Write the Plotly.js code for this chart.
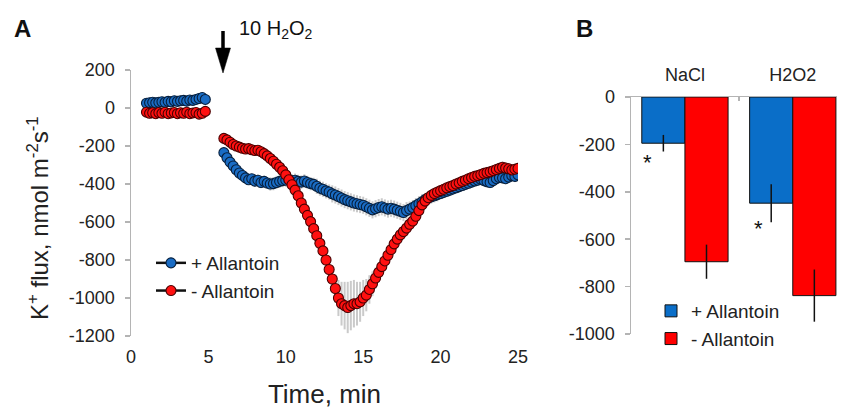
<!DOCTYPE html>
<html>
<head>
<meta charset="utf-8">
<script src="https://cdn.plot.ly/plotly-3.0.1.min.js"></script>
<style>html,body{margin:0;padding:0;background:#fff;}#chart{width:841px;height:413px;}</style>
</head>
<body>
<div id="chart"></div>
<script>
// ---------- Panel A data ----------
const timeA1 = [1.0,1.2,1.4,1.6,1.8,2.0,2.2,2.4,2.6,2.8,3.0,3.2,3.4,3.6,3.8,4.0,4.2,4.4,4.6,4.8];
const plusA1 = [25,28,30,27,30,33,30,35,33,38,35,38,40,36,42,40,45,50,55,45];
const minusA1 = [-22,-28,-25,-30,-24,-28,-22,-30,-26,-24,-30,-25,-28,-22,-30,-26,-24,-32,-28,-18];
const plusErrA1 = [8,8,8,8,8,8,8,8,8,8,8,8,8,8,8,8,8,8,8,8];
const minusErrA1 = [8,8,8,8,8,8,8,8,8,8,8,8,8,8,8,8,8,8,8,8];

const timeA2 = [6.0,6.2,6.4,6.6,6.8,7.0,7.2,7.4,7.6,7.8,8.0,8.2,8.4,8.6,8.8,9.0,9.2,9.4,9.6,9.8,
  10.0,10.2,10.4,10.6,10.8,11.0,11.2,11.4,11.6,11.8,12.0,12.2,12.4,12.6,12.8,13.0,13.2,13.4,13.6,13.8,
  14.0,14.2,14.4,14.6,14.8,15.0,15.2,15.4,15.6,15.8,16.0,16.2,16.4,16.6,16.8,17.0,17.2,17.4,17.6,17.8,
  18.0,18.2,18.4,18.6,18.8,19.0,19.2,19.4,19.6,19.8,20.0,20.2,20.4,20.6,20.8,21.0,21.2,21.4,21.6,21.8,
  22.0,22.2,22.4,22.6,22.8,23.0,23.2,23.4,23.6,23.8,24.0,24.2,24.4,24.6,24.8,25.0];
const plusA2 = [-235,-262,-285,-305,-325,-342,-355,-368,-378,-372,-385,-380,-392,-386,-395,-400,-398,-392,-386,-382,
  -380,-376,-384,-380,-386,-390,-384,-392,-398,-402,-412,-422,-428,-436,-442,-452,-458,-466,-474,-482,
  -488,-494,-500,-504,-508,-512,-520,-528,-536,-530,-524,-520,-526,-532,-528,-532,-538,-544,-550,-540,
  -532,-524,-514,-504,-494,-482,-474,-468,-462,-456,-450,-444,-438,-432,-426,-420,-414,-408,-402,-396,
  -390,-384,-380,-376,-382,-388,-392,-382,-372,-366,-368,-372,-364,-356,-360,-352];
const minusA2 = [-160,-168,-180,-192,-200,-206,-212,-216,-214,-220,-224,-222,-230,-240,-252,-266,-280,-296,-312,-330,
  -352,-378,-404,-432,-462,-500,-532,-565,-598,-635,-672,-712,-752,-800,-850,-900,-950,-1000,-1030,-1040,
  -1050,-1040,-1030,-1030,-1020,-1000,-985,-955,-925,-895,-865,-835,-805,-775,-745,-715,-690,-668,-650,-632,
  -612,-595,-570,-540,-510,-490,-472,-460,-450,-442,-435,-428,-420,-414,-408,-400,-394,-386,-380,-372,
  -366,-360,-356,-350,-344,-340,-336,-330,-324,-318,-312,-316,-320,-326,-322,-318];
const plusErrA2 = [25,25,25,25,25,25,25,25,25,25,30,30,30,30,30,35,35,35,35,35,
  35,35,35,35,35,35,35,35,35,35,40,40,40,40,40,45,45,45,45,45,
  45,45,45,45,45,45,45,45,45,45,45,45,45,45,45,45,45,45,45,45,
  40,40,40,40,40,35,35,35,35,35,30,30,30,30,30,30,30,30,30,30,
  30,30,30,30,30,30,30,30,30,30,30,30,30,30,30,30];
const minusErrA2 = [20,20,20,20,20,20,20,20,20,20,20,20,20,20,20,25,25,25,25,25,
  30,30,30,30,30,35,35,35,35,35,40,40,40,45,50,60,75,95,115,125,
  135,130,125,115,105,95,85,75,65,55,50,50,45,45,45,45,45,40,40,40,
  35,35,35,35,35,30,30,30,30,30,30,30,30,30,30,30,30,30,30,30,
  30,30,30,30,30,30,30,30,30,30,30,30,30,30,30,30];
const tickValsA = [200, 0, -200, -400, -600, -800, -1000, -1200];
const tickTextA = ['200', '0', '-200', '-400', '-600', '-800', '-1000', '-1200'];

// ---------- Panel B data ----------
const categoriesB = ['NaCl', 'H2O2'];
const plusB = [-195, -448];
const plusErrB = [35, 80];
const minusB = [-695, -838];
const minusErrB = [72, 110];
const tickValsB = [0, -200, -400, -600, -800, -1000];
const tickTextB = ['0', '-200', '-400', '-600', '-800', '-1000'];

const seriesNames = ['+ Allantoin', '- Allantoin'];

const FONT = 'Arial, "Liberation Sans", sans-serif';
const BLUE = '#1a6cc4', BLUE_EDGE = '#071f3c';
const RED = '#ff1010', RED_EDGE = '#4a0000';
const GREYAX = '#b4b4b4';
const ERRC = 'rgba(150,150,150,0.5)';

function errTrace(x, y, e) {
  return {type:'scatter', mode:'markers', x:x, y:y, xaxis:'x', yaxis:'y',
    marker:{size:1, opacity:0}, showlegend:false, hoverinfo:'skip',
    error_y:{type:'data', array:e, visible:true, color:ERRC, thickness:2, width:0}};
}
function lineTrace(x, y, name, col, edge, show, group) {
  return {type:'scatter', mode:'lines+markers', x:x, y:y, xaxis:'x', yaxis:'y', name:name,
    legendgroup:group, showlegend:show, legend:'legend',
    line:{color:'#111', width:2.5},
    marker:{size:10, color:col, line:{color:edge, width:1.1}}};
}

const traces = [
  errTrace(timeA1, plusA1, plusErrA1),
  errTrace(timeA2, plusA2, plusErrA2),
  errTrace(timeA1, minusA1, minusErrA1),
  errTrace(timeA2, minusA2, minusErrA2),
  lineTrace(timeA1, plusA1, seriesNames[0], BLUE, BLUE_EDGE, true, 'p'),
  lineTrace(timeA2, plusA2, seriesNames[0], BLUE, BLUE_EDGE, false, 'p'),
  lineTrace(timeA1, minusA1, seriesNames[1], RED, RED_EDGE, true, 'm'),
  lineTrace(timeA2, minusA2, seriesNames[1], RED, RED_EDGE, false, 'm'),
  {type:'bar', x:categoriesB, y:plusB, name:seriesNames[0], xaxis:'x3', yaxis:'y3', legend:'legend2',
    marker:{color:'#0a6ec8', line:{color:'#111', width:1}},
    error_y:{type:'data', array:plusErrB, color:'#111', thickness:1.5, width:0}},
  {type:'bar', x:categoriesB, y:minusB, name:seriesNames[1], xaxis:'x3', yaxis:'y3', legend:'legend2',
    marker:{color:'#ff0000', line:{color:'#111', width:1}},
    error_y:{type:'data', array:minusErrB, color:'#111', thickness:1.5, width:0}}
];

const W = 841, H = 413;
const px = v => v / W;
const py = v => 1 - v / H;

const yDomA = [py(336), py(70)];
const yRangeA = [-1200, 200];
const zeroPosA = yDomA[0] + (0 - yRangeA[0]) / (yRangeA[1] - yRangeA[0]) * (yDomA[1] - yDomA[0]);

const tickFont = {family: FONT, size: 18, color: '#222'};

const layout = {
  width: W, height: H,
  margin: {l:0, r:0, t:0, b:0},
  paper_bgcolor: '#fff', plot_bgcolor: 'rgba(0,0,0,0)',
  font: {family: FONT, color: '#222'},
  showlegend: true,
  barmode: 'group', bargap: 0.2, bargroupgap: 0,
  xaxis: {domain:[px(131), px(518)], range:[0, 25], anchor:'y', dtick:5, tick0:0,
    showline:false, ticks:'', showgrid:false, zeroline:false, tickfont:tickFont,
    ticklabelstandoff: 8,
    title:{text:'Time, min', font:{family:FONT, size:26, color:'#222'}, standoff:18}},
  xaxis2: {overlaying:'x', matches:'x', anchor:'free', position: zeroPosA, side:'top',
    range:[0, 25], dtick:5, tick0:0, showline:true, linecolor:GREYAX, linewidth:1.5,
    ticks:'outside', ticklen:5, tickcolor:GREYAX, tickwidth:1.5, showticklabels:false,
    showgrid:false, zeroline:false, layer:'below traces'},
  yaxis: {domain: yDomA, range: yRangeA, anchor:'x', tickmode:'array', tickvals:tickValsA, ticktext:tickTextA,
    showline:true, linecolor:GREYAX, linewidth:1.5, ticks:'outside', ticklen:5, tickcolor:GREYAX, tickwidth:1.5,
    showgrid:false, zeroline:false, tickfont:tickFont, ticklabelstandoff: 6},
  xaxis3: {domain:[px(631), px(837)], range:[-0.5, 1.41], anchor:'y3', side:'top', type:'category',
    showline:true, linecolor:GREYAX, linewidth:1.5, ticks:'inside', tickson:'boundaries', ticklen:4,
    tickcolor:GREYAX, tickwidth:1.5, showgrid:false, zeroline:false, tickfont:tickFont, ticklabelstandoff: 7},
  yaxis3: {domain:[py(334), py(97)], range:[-1000, 0], anchor:'x3', tickmode:'array', tickvals:tickValsB, ticktext:tickTextB,
    showline:true, linecolor:GREYAX, linewidth:1.5, ticks:'outside', ticklen:5, tickcolor:GREYAX, tickwidth:1.5,
    showgrid:false, zeroline:false, tickfont:tickFont, ticklabelstandoff: 6},
  legend: {x: px(151), y: py(244), xanchor:'left', yanchor:'top', bgcolor:'rgba(0,0,0,0)',
    font:{family:FONT, size:19, color:'#222'}, itemwidth:30, tracegroupgap:0},
  legend2: {x: px(651), y: py(292), xanchor:'left', yanchor:'top', bgcolor:'rgba(0,0,0,0)',
    font:{family:FONT, size:19, color:'#222'}, tracegroupgap:0},
  shapes: [
    {type:'line', xref:'paper', yref:'paper', x0:px(223), x1:px(223), y0:py(31), y1:py(52),
      line:{color:'#000', width:3.5}},
    {type:'path', xref:'paper', yref:'paper',
      path:'M ' + px(215.5) + ' ' + py(48) + ' L ' + px(230.5) + ' ' + py(48) + ' L ' + px(223) + ' ' + py(73) + ' Z',
      fillcolor:'#000', line:{color:'#000', width:0.5}}
  ],
  annotations: [
    {text:'K<sup>+</sup> flux, nmol m<sup>-2</sup>s<sup>-1</sup>', xref:'paper', yref:'paper', x:px(38), y:py(218),
      xanchor:'center', yanchor:'middle', textangle:-90, showarrow:false, font:{family:FONT, size:24, color:'#222'}},
    {text:'<b>A</b>', xref:'paper', yref:'paper', x:px(12), y:py(29), xanchor:'left', yanchor:'middle',
      showarrow:false, font:{family:FONT, size:24, color:'#111'}},
    {text:'<b>B</b>', xref:'paper', yref:'paper', x:px(574), y:py(29), xanchor:'left', yanchor:'middle',
      showarrow:false, font:{family:FONT, size:24, color:'#111'}},
    {text:'10 H<sub>2</sub>O<sub>2</sub>', xref:'paper', yref:'paper', x:px(237), y:py(30), xanchor:'left', yanchor:'middle',
      showarrow:false, font:{family:FONT, size:20, color:'#111'}},
    {text:'*', xref:'x3', yref:'y3', x:-0.35, y:-275, showarrow:false, font:{family:FONT, size:22, color:'#111'}},
    {text:'*', xref:'x3', yref:'y3', x:0.685, y:-553, showarrow:false, font:{family:FONT, size:22, color:'#111'}}
  ]
};

Plotly.newPlot('chart', traces, layout, {displayModeBar:false, staticPlot:true});
</script>
</body>
</html>
